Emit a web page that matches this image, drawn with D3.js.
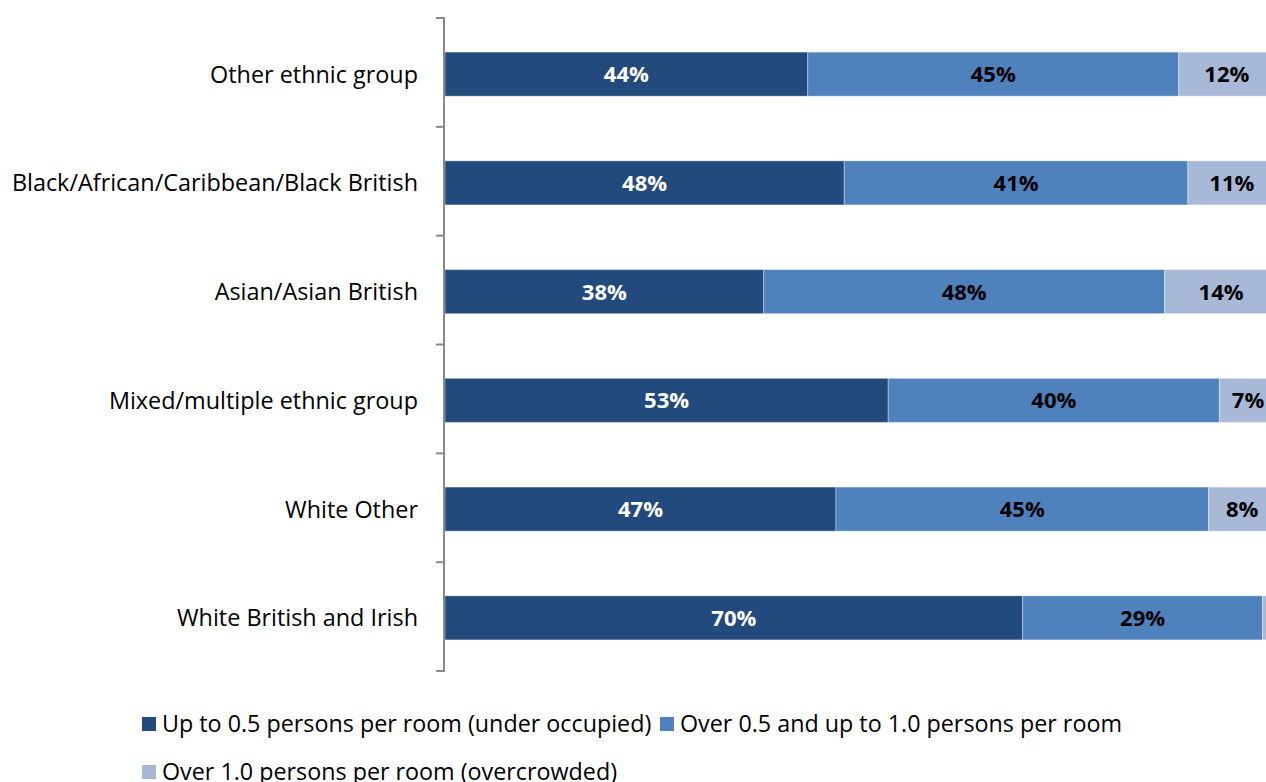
<!DOCTYPE html>
<html>
<head>
  <meta charset="utf-8">
  <title>Occupancy by ethnic group</title>
  <script src="https://d3js.org/d3.v7.min.js"></script>
  <style>
    body { margin: 0; background: #fff; }
    svg text { font-family: "Open Sans", "Noto Sans", sans-serif; }
  </style>
</head>
<body>
<svg id="chart" width="1266" height="782"></svg>

<script>
// categories, top to bottom
var categories = ["Other ethnic group", "Black/African/Caribbean/Black British",
  "Asian/Asian British", "Mixed/multiple ethnic group", "White Other", "White British and Irish"];

// series values (%)
var underOccupied = [43.7, 48.1, 38.4, 53.4, 47.1, 69.6];
var upToOne       = [44.7, 41.4, 48.3, 39.9, 44.9, 28.9];
var overcrowded   = [11.6, 10.6, 13.6, 6.9, 8.1, 1.3];

var seriesNames = ["Up to 0.5 persons per room (under occupied)",
  "Over 0.5 and up to 1.0 persons per room",
  "Over 1.0 persons per room (overcrowded)"];
var colors = ["#234a7c", "#4f81bd", "#a8b9d8"];
var labelColors = ["#fff", "#000", "#000"];

var rows = categories.map(function(c, i) {
  return { cat: c, vals: [underOccupied[i], upToOne[i], overcrowded[i]] };
});

var svg = d3.select("#chart");

// plot area runs past the right edge of the picture (it is cropped there)
var plotLeft = 444, plotTop = 18, plotBottom = 671;
var x = d3.scaleLinear().domain([0, 100]).range([plotLeft + 1, plotLeft + 831]);
var y = d3.scaleBand().domain(categories).range([plotTop + 1.5, plotBottom + 1.5]).paddingInner(0.595).paddingOuter(0.3);

var g = svg.selectAll("g.row").data(rows).enter().append("g").attr("class", "row");

g.each(function(d) {
  var row = d3.select(this);
  var acc = 0;
  d.vals.forEach(function(v, k) {
    var x0 = x(acc), x1 = x(acc + v);
    row.append("rect")
      .attr("x", x0).attr("y", y(d.cat))
      .attr("width", x1 - x0).attr("height", y.bandwidth())
      .attr("fill", colors[k])
      .attr("stroke", "rgba(255,255,255,0.35)").attr("stroke-width", 1);
    if (v >= 2) {
      row.append("text")
        .attr("x", (x0 + x1) / 2).attr("y", y(d.cat) + y.bandwidth() / 2)
        .attr("dy", "0.36em").attr("text-anchor", "middle")
        .attr("fill", labelColors[k]).style("font-weight", "bold").style("font-size", "22px")
        .text(d3.format(".0f")(v) + "%");
    }
    acc += v;
  });
});

// category axis with outward ticks at band edges
var axis = svg.append("g");
axis.append("line").attr("x1", plotLeft).attr("x2", plotLeft).attr("y1", plotTop).attr("y2", plotBottom)
  .attr("stroke", "#898989").attr("stroke-width", 2);
var step = (plotBottom - plotTop) / categories.length;
d3.range(categories.length + 1).forEach(function(i) {
  axis.append("line").attr("x1", plotLeft - 8).attr("x2", plotLeft + 1)
    .attr("y1", plotTop + i * step).attr("y2", plotTop + i * step)
    .attr("stroke", "#898989").attr("stroke-width", 2);
});
axis.selectAll("text.cat").data(categories).enter().append("text")
  .attr("class", "cat")
  .attr("x", plotLeft - 26).attr("y", function(d) { return y(d) + y.bandwidth() / 2; })
  .attr("dy", "0.36em").attr("text-anchor", "end")
  .style("font-size", "23.4px").attr("fill", "#000")
  .text(function(d) { return d; });

// legend
var legendPos = [[142, 724], [660, 724], [142, 772]];
var legend = svg.selectAll("g.leg").data(seriesNames).enter().append("g").attr("class", "leg")
  .attr("transform", function(d, i) { return "translate(" + legendPos[i][0] + "," + legendPos[i][1] + ")"; });
legend.append("rect").attr("x", 0).attr("y", -7).attr("width", 14).attr("height", 14)
  .attr("fill", function(d, i) { return colors[i]; });
legend.append("text").attr("x", 20).attr("dy", "0.36em")
  .style("font-size", "23.3px").attr("fill", "#000")
  .text(function(d) { return d; });
</script>
</body>
</html>
